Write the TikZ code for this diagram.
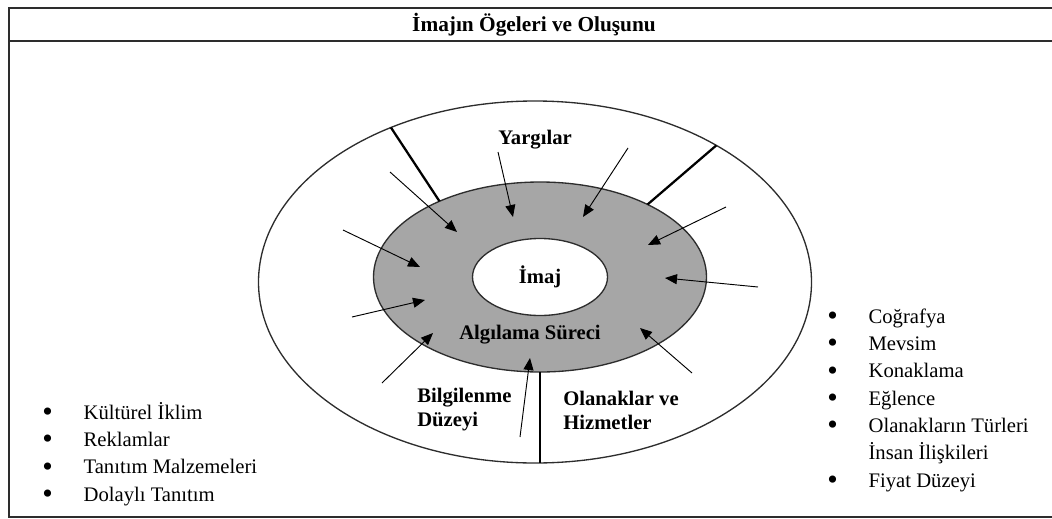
\documentclass[tikz,border=0pt]{standalone}
\usepackage{fontspec}
\usepackage{graphicx}
\setmainfont{Liberation Serif}
\usetikzlibrary{shapes.geometric,arrows.meta}
\definecolor{ringGray}{RGB}{166,166,166}
\definecolor{edgeDark}{RGB}{45,45,45}
\newcommand{\bul}{\makebox[31pt][l]{\raisebox{-0.25ex}{\scalebox{1.45}{\textbullet}}}}
\newcommand{\nobul}{\makebox[31pt][l]{}}

\begin{document}
\begin{tikzpicture}[x=0.75pt, y=-0.75pt, font=\fontsize{15.5}{20.5}\selectfont]
    % Styles
    \tikzstyle{ring} = [ellipse, draw=edgeDark, line width=1pt, inner sep=0pt, outer sep=0pt]
    \tikzstyle{divider} = [line width=1.7pt, black]
    \tikzstyle{arrow} = [-{Triangle[length=9pt, width=7.5pt]}, line width=0.7pt, black]
    \tikzstyle{ringtext} = [font=\fontsize{15.5}{18}\selectfont\bfseries, inner sep=0pt]
    \tikzstyle{bulletlist} = [anchor=base west, inner sep=0pt]

    \useasboundingbox (0,0) rectangle (1052,518);

    % Frame and title
    \draw[line width=1.2pt, edgeDark] (1052,8) -- (9,8) -- (9,517) -- (1052,517);
    \draw[line width=1.2pt, edgeDark] (9,41) -- (1052,41);
    \node[ringtext, font=\fontsize{16}{18}\selectfont\bfseries] (title) at (534,25) {İmajın Ögeleri ve Oluşunu};

    % Rings - explicit coordinates
    \node[ring, minimum width=414.75pt, minimum height=271.5pt] (factors) at (535,282) {};
    \node[ring, fill=ringGray, minimum width=249.75pt, minimum height=142.5pt] (perception) at (540,277) {};
    \node[ring, fill=white, minimum width=101.25pt, minimum height=57.75pt] (image) at (540,277) {};

    % Dividers
    \draw[divider] (perception.143) -- (factors.133);
    \draw[divider] (perception.34) -- (factors.37);
    \draw[divider] (perception.south) -- (perception.south |- factors.south);

    % Labels
    \node[ringtext] (judgements) at (535,140) {Yargılar};
    \node[ringtext] (imaj) at (image) {İmaj};
    \node[ringtext] (process) at (530,335) {Algılama Süreci};
    \node[ringtext, align=left, anchor=west] (info) at (417,410) {Bilgilenme\\Düzeyi};
    \node[ringtext, align=left, anchor=west] (services) at (563,410) {Olanaklar ve\\Hizmetler};

    % Arrow ends
    \coordinate (s1) at (390,172);  \coordinate (t1) at (457,232);
    \coordinate (s2) at (498,152);  \coordinate (t2) at (513,217);
    \coordinate (s3) at (628,148);  \coordinate (t3) at (583,217);
    \coordinate (s4) at (726,207);  \coordinate (t4) at (648,245);
    \coordinate (s5) at (343,230);  \coordinate (t5) at (420,267);
    \coordinate (s6) at (758,287);  \coordinate (t6) at (665,278);
    \coordinate (s7) at (352,317);  \coordinate (t7) at (425,300);
    \coordinate (s8) at (382,383);  \coordinate (t8) at (433,333);
    \coordinate (s9) at (520,437);  \coordinate (t9) at (530,358);
    \coordinate (s10) at (692,373); \coordinate (t10) at (640,328);

    % Arrows
    \draw[arrow] (s1) -- (t1);
    \draw[arrow] (s2) -- (t2);
    \draw[arrow] (s3) -- (t3);
    \draw[arrow] (s4) -- (t4);
    \draw[arrow] (s5) -- (t5);
    \draw[arrow] (s6) -- (t6);
    \draw[arrow] (s7) -- (t7);
    \draw[arrow] (s8) -- (t8);
    \draw[arrow] (s9) -- (t9);
    \draw[arrow] (s10) -- (t10);

    % Lists
    \node[bulletlist] (promotion) at (42,419) {\begin{tabular}[t]{@{}l@{}}
        \bul Kültürel İklim\\
        \bul Reklamlar\\
        \bul Tanıtım Malzemeleri\\
        \bul Dolaylı Tanıtım
    \end{tabular}};
    \node[bulletlist] (destination) at (827,323) {\begin{tabular}[t]{@{}l@{}}
        \bul Coğrafya\\
        \bul Mevsim\\
        \bul Konaklama\\
        \bul Eğlence\\
        \bul Olanakların Türleri\\
        \nobul İnsan İlişkileri\\
        \bul Fiyat Düzeyi
    \end{tabular}};
\end{tikzpicture}
\end{document}
